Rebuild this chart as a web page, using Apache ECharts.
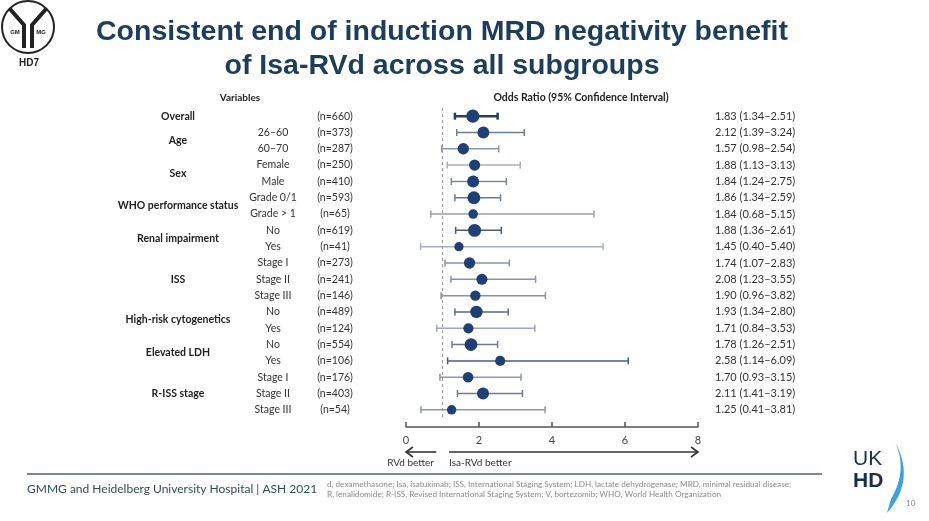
<!DOCTYPE html>
<html>
<head>
<meta charset="utf-8">
<script src="https://cdn.jsdelivr.net/npm/echarts@6/dist/echarts.min.js"></script>
<style>
html,body{margin:0;padding:0;background:#fff;}
#chart{width:929px;height:521px;}
</style>
</head>
<body>
<div id="chart"></div>
<script>
// ---------- data ----------
const groupNames = ['Overall','Age','Sex','WHO performance status','Renal impairment','ISS','High-risk cytogenetics','Elevated LDH','R-ISS stage'];
const groupSizes = [1,2,2,2,2,3,2,2,3];
const subgroups = ['','26–60','60–70','Female','Male','Grade 0/1','Grade > 1','No','Yes','Stage I','Stage II','Stage III','No','Yes','No','Yes','Stage I','Stage II','Stage III'];
const nValues = [660,373,287,250,410,593,65,619,41,273,241,146,489,124,554,106,176,403,54];
const orValues = [1.83,2.12,1.57,1.88,1.84,1.86,1.84,1.88,1.45,1.74,2.08,1.90,1.93,1.71,1.78,2.58,1.70,2.11,1.25];
const ciLow = [1.34,1.39,0.98,1.13,1.24,1.34,0.68,1.36,0.40,1.07,1.23,0.96,1.34,0.84,1.26,1.14,0.93,1.41,0.41];
const ciHigh = [2.51,3.24,2.54,3.13,2.75,2.59,5.15,2.61,5.40,2.83,3.55,3.82,2.80,3.53,2.51,6.09,3.15,3.19,3.81];
const xTicks = [0,2,4,6,8];
const refLine = 1;

// ---------- styles ----------
const barColors = ['#2f3b5c','#6b7b9b','#8d96a6','#a9aeb8','#7d879a','#6e7a94','#9aa0aa','#4d5872','#aab0b8','#8a93a3','#8a93a3','#8a93a3','#5d6a86','#a0a6b2','#6f7a90','#4b5a8a','#8f97a6','#6f7b95','#8e96a4'];
const dotColor = '#1f3f78';
const labelFont = 'Lato';

const cats = subgroups.map((s,i)=>String(i));
const fmt = v => v.toFixed(2);

const chart = echarts.init(document.getElementById('chart'));

const option = {
  animation:false,
  backgroundColor:'#ffffff',
  grid:{left:406, right:231, top:108, height:310},
  xAxis:{
    type:'value', min:xTicks[0], max:xTicks[xTicks.length-1], interval:2, offset:9,
    axisLine:{show:true, lineStyle:{color:'#555', width:1.5}},
    axisTick:{show:true, inside:true, length:5, lineStyle:{color:'#555', width:1.5}},
    axisLabel:{color:'#444', fontSize:11, margin:8, fontFamily:labelFont},
    splitLine:{show:false}
  },
  yAxis:[
    {
      type:'category', data:cats, inverse:true,
      axisLine:{show:false}, axisTick:{show:false}, splitLine:{show:false},
      axisLabel:{
        margin:51, fontFamily:labelFont,
        formatter:(v,i)=>'{a|'+subgroups[i]+'}{b|(n='+nValues[i]+')}',
        rich:{
          a:{width:84, align:'center', fontSize:10.5, color:'#333', fontFamily:labelFont},
          b:{width:40, align:'center', fontSize:10.5, color:'#333', fontFamily:labelFont}
        }
      }
    },
    {
      type:'category', data:cats, inverse:true, position:'right',
      axisLine:{show:false}, axisTick:{show:false}, splitLine:{show:false},
      axisLabel:{
        margin:17, fontSize:11, color:'#333', fontFamily:labelFont,
        formatter:(v,i)=>fmt(orValues[i])+' ('+fmt(ciLow[i])+'–'+fmt(ciHigh[i])+')'
      }
    }
  ],
  series:[
    {
      type:'custom',
      data: ciLow.map((lo,i)=>[lo, ciHigh[i], i]),
      encode:{x:[0,1], y:2},
      renderItem:(params, api)=>{
        const i = api.value(2);
        const p1 = api.coord([api.value(0), i]);
        const p2 = api.coord([api.value(1), i]);
        const w = i===0 ? 2.5 : 1.5;
        const c = barColors[i];
        const h = 3.5;
        return {type:'group', children:[
          {type:'line', shape:{x1:p1[0], y1:p1[1], x2:p2[0], y2:p2[1]}, style:{stroke:c, lineWidth:w}},
          {type:'line', shape:{x1:p1[0], y1:p1[1]-h, x2:p1[0], y2:p1[1]+h}, style:{stroke:c, lineWidth:w}},
          {type:'line', shape:{x1:p2[0], y1:p2[1]-h, x2:p2[0], y2:p2[1]+h}, style:{stroke:c, lineWidth:w}}
        ]};
      },
      z:2
    },
    {
      type:'scatter',
      data: orValues.map((v,i)=>[v,i]),
      symbol:'circle',
      symbolSize:(d,p)=>8+0.2*Math.sqrt(nValues[p.dataIndex]),
      itemStyle:{color:dotColor, opacity:1},
      z:3,
      markLine:{
        silent:true, symbol:'none', animation:false,
        data:[{xAxis:refLine}],
        lineStyle:{type:[3,3], color:'#9a9a9a', width:1.2},
        label:{show:false}
      }
    }
  ]
};
chart.setOption(option);

// ---------- annotations ----------
const g = [];
function txt(x,y,text,font,fill,align,valign){
  g.push({type:'text', x:x, y:y, silent:true, style:{text:text, font:font, fill:fill,
    align:align||'left', textAlign:align||'left', verticalAlign:valign||'middle', textVerticalAlign:valign||'middle'}});
}
// title
txt(442,32,'Consistent end of induction MRD negativity benefit','bold 28.5px "Liberation Sans"','#1b3d5e','center');
txt(442,66,'of Isa-RVd across all subgroups','bold 28.5px "Liberation Sans"','#1b3d5e','center');
// headers
txt(240,98,'Variables','bold 10px Lato','#222','center');
txt(581,98,'Odds Ratio (95% Confidence Interval)','bold 10.5px Lato','#222','center');
// group labels
let start = 0;
groupNames.forEach((name,k)=>{
  const end = start + groupSizes[k] - 1;
  const y1 = chart.convertToPixel({yAxisIndex:0}, start);
  const y2 = chart.convertToPixel({yAxisIndex:0}, end);
  txt(178,(y1+y2)/2,name,'bold 10.5px Lato','#222','center');
  start = end + 1;
});
// arrows
const ax = v => chart.convertToPixel({xAxisIndex:0}, v);
const ay = 452;
const xa0 = ax(0), xa1 = ax(0.83), xb0 = ax(1.18), xb1 = ax(8);
g.push({type:'line', silent:true, shape:{x1:xa1,y1:ay,x2:xa0,y2:ay}, style:{stroke:'#333', lineWidth:1.6}});
g.push({type:'polyline', silent:true, shape:{points:[[xa0+7,ay-5],[xa0,ay],[xa0+7,ay+5]]}, style:{stroke:'#333', lineWidth:1.6, fill:null}});
g.push({type:'line', silent:true, shape:{x1:xb0,y1:ay,x2:xb1,y2:ay}, style:{stroke:'#333', lineWidth:1.6}});
g.push({type:'polyline', silent:true, shape:{points:[[xb1-7,ay-5],[xb1,ay],[xb1-7,ay+5]]}, style:{stroke:'#333', lineWidth:1.6, fill:null}});
txt(434,463,'RVd better','10px Lato','#333','right');
txt(449,463,'Isa-RVd better','10px Lato','#333','left');
// footer
g.push({type:'line', silent:true, shape:{x1:27,y1:474,x2:822,y2:474}, style:{stroke:'#7a8a9a', lineWidth:2}});
txt(27,489,'GMMG and Heidelberg University Hospital | ASH 2021','12px Lato','#2f4a66','left');
txt(327,484,'d, dexamethasone; Isa, isatuximab; ISS, International Staging System; LDH, lactate dehydrogenase; MRD, minimal residual disease;','8.2px Lato','#8a8a8a','left');
txt(327,494,'R, lenalidomide; R-ISS, Revised International Staging System; V, bortezomib; WHO, World Health Organization','8.2px Lato','#8a8a8a','left');
// UKHD logo
txt(853,459,'UK','21px "Liberation Sans"','#1b2f4a','left');
txt(853,481,'HD','bold 21px "Liberation Sans"','#1b2f4a','left');
function qb(p0,p1,p2,n){const out=[];for(let k=0;k<=n;k++){const t=k/n,u=1-t;out.push([u*u*p0[0]+2*u*t*p1[0]+t*t*p2[0],u*u*p0[1]+2*u*t*p1[1]+t*t*p2[1]]);}return out;}
const outer = qb([895,442],[916,480],[887,513],20);
const inner = qb([891,499],[908,470],[895,442],20);
g.push({type:'polygon', silent:true, shape:{points:outer.concat(inner)}, style:{fill:'#3aa3de'}});
txt(906,503,'10','8px Lato','#888','left');
// GMMG logo
g.push({type:'circle', silent:true, shape:{cx:28,cy:27,r:26}, style:{stroke:'#222', lineWidth:2, fill:'#fff'}});
g.push({type:'polyline', silent:true, shape:{points:[[10,9],[24,25],[24,48]]}, style:{stroke:'#222', lineWidth:4, fill:null}});
g.push({type:'polyline', silent:true, shape:{points:[[46,9],[32,25],[32,48]]}, style:{stroke:'#222', lineWidth:4, fill:null}});
txt(15,32,'GM','bold 6px "Liberation Sans"','#222','center');
txt(41,32,'MG','bold 6px "Liberation Sans"','#222','center');
txt(29,63,'HD7','bold 10px "Liberation Sans"','#222','center');

chart.setOption({graphic:{elements:g}});
</script>
</body>
</html>
